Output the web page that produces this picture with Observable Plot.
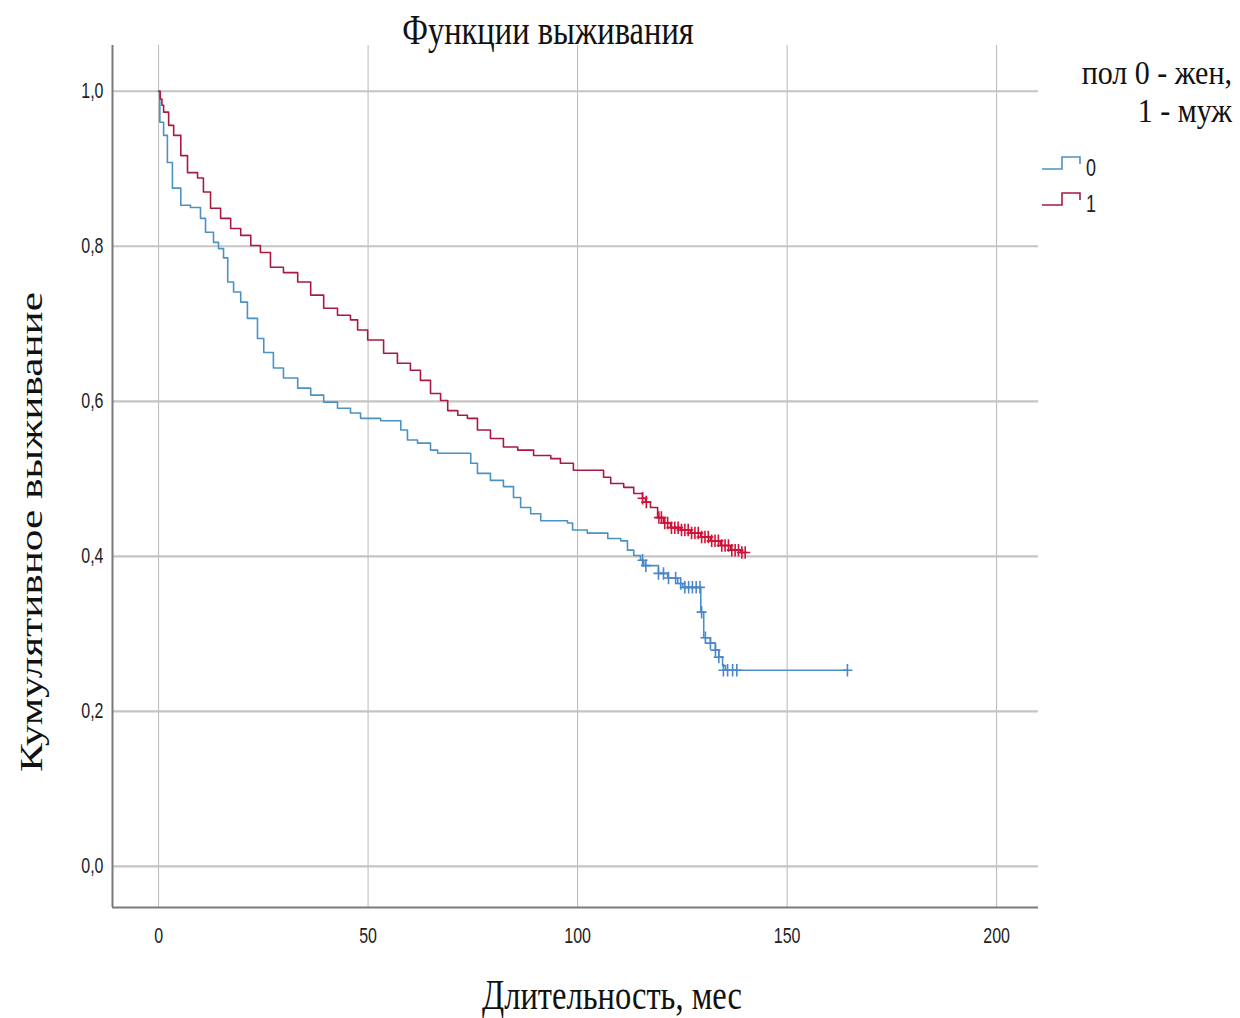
<!DOCTYPE html>
<html>
<head>
<meta charset="utf-8">
<script src="https://cdn.jsdelivr.net/npm/d3@7"></script>
<script src="https://cdn.jsdelivr.net/npm/@observablehq/plot@0.6"></script>
<style>
  html, body { margin: 0; padding: 0; background: #fff; }
  #wrap { position: relative; width: 1240px; height: 1018px; overflow: hidden; }
  .serif { font-family: "Liberation Serif", "DejaVu Serif", serif; color: #111; position: absolute; white-space: nowrap; }
</style>
</head>
<body>
<div id="wrap"></div>
<script>
// ---------- data ----------
const groups = ["0", "1"];
const titleText = "Функции выживания";
const xLabel = "Длительность, мес";
const yLabel = "Кумулятивное выживание";
const legendTitle = ["пол 0 - жен,", "1 - муж"];
const xTicks = [0, 50, 100, 150, 200];
const yTicks = [0, 0.2, 0.4, 0.6, 0.8, 1.0];

// group 0 (жен)
const time0 = [0, 0.3, 1.2, 2.1, 3.3, 5.3, 7.6, 10, 11.2, 13.1, 14.3, 15.5, 16.5, 17.9, 19.6, 21.2, 23.6, 25.1, 27.4, 29.8, 33.2, 36.3, 39.4, 42.7, 45.8, 48.2, 53, 57.8, 59.4, 61.8, 64.9, 66.6, 74.5, 76.1, 79.2, 82.3, 84.7, 86.4, 88.8, 91.2, 97.6, 98.8, 102.3, 107.2, 110.3, 111.9, 113.4, 115, 115.8, 119.3, 121.5, 123.9, 125.1, 129.4, 130.1, 131.7, 132.9, 133.7, 134.6, 135.3, 164.4];
const surv0 = [1, 0.96, 0.943, 0.908, 0.875, 0.853, 0.85, 0.836, 0.818, 0.805, 0.797, 0.785, 0.754, 0.741, 0.728, 0.707, 0.681, 0.663, 0.643, 0.63, 0.617, 0.608, 0.599, 0.591, 0.585, 0.578, 0.575, 0.563, 0.55, 0.546, 0.537, 0.533, 0.52, 0.507, 0.498, 0.49, 0.476, 0.463, 0.455, 0.446, 0.443, 0.434, 0.43, 0.423, 0.42, 0.408, 0.401, 0.395, 0.388, 0.378, 0.372, 0.365, 0.36, 0.328, 0.295, 0.288, 0.279, 0.27, 0.259, 0.253, 0.253];
const censTime0 = [115.5, 116.3, 119.3, 120.5, 121.7, 123.4, 124.6, 125.6, 126.5, 127.4, 128.3, 129.2, 129.6, 130.5, 131.7, 132.9, 133.7, 134.8, 135.8, 137, 138, 164.4];
const censSurv0 = [0.395, 0.388, 0.378, 0.378, 0.372, 0.372, 0.365, 0.36, 0.36, 0.36, 0.36, 0.36, 0.328, 0.295, 0.288, 0.279, 0.27, 0.253, 0.253, 0.253, 0.253, 0.253];

// group 1 (муж)
const time1 = [0, 0.4, 0.8, 1.2, 2.4, 3.6, 5.3, 6.9, 9.3, 10.7, 12.4, 14.8, 17.2, 19.6, 22, 24.3, 26.7, 29.8, 33.2, 36.3, 39.4, 42.7, 45.8, 47.5, 49.9, 53.7, 57, 60.1, 62.5, 64.9, 67.3, 69, 71.4, 73.7, 76.1, 79.2, 82.3, 85.7, 89.5, 93.6, 95.9, 99, 106.2, 107.9, 111, 113.4, 115.5, 116.2, 117.4, 119.1, 120.5, 122.2, 124.6, 127, 129.4, 131.7, 134.1, 136.5, 138.9, 140.1];
const surv1 = [1, 0.99, 0.982, 0.973, 0.956, 0.943, 0.917, 0.895, 0.888, 0.87, 0.849, 0.836, 0.823, 0.814, 0.801, 0.792, 0.773, 0.766, 0.754, 0.737, 0.72, 0.711, 0.705, 0.692, 0.679, 0.662, 0.649, 0.64, 0.627, 0.61, 0.601, 0.588, 0.582, 0.578, 0.563, 0.552, 0.541, 0.537, 0.53, 0.526, 0.52, 0.511, 0.502, 0.494, 0.489, 0.481, 0.475, 0.47, 0.463, 0.45, 0.443, 0.437, 0.434, 0.43, 0.425, 0.42, 0.414, 0.408, 0.405, 0.405];
const censTime1 = [115.5, 116.4, 119.4, 120, 120.8, 121.5, 122.4, 123.2, 124, 124.8, 125.6, 126.4, 127.2, 128, 128.8, 129.6, 130.4, 131.2, 132, 132.8, 133.6, 134.4, 135.2, 136, 136.8, 137.6, 138.4, 139.2, 140];
const censSurv1 = [0.475, 0.47, 0.45, 0.45, 0.443, 0.443, 0.437, 0.437, 0.437, 0.434, 0.434, 0.434, 0.43, 0.43, 0.43, 0.425, 0.425, 0.425, 0.42, 0.42, 0.42, 0.414, 0.414, 0.414, 0.408, 0.408, 0.408, 0.405, 0.405];

// ---------- styling ----------
const lineColor = {"0": "#4b92c2", "1": "#a81a40"};
const censColor = {"0": "#4a86cc", "1": "#d01238"};
const xDomain = [-11, 210];
const yDomain = [-0.053, 1.059];
const stretch = 1.33; // the reference text is vertically elongated

const curve0 = time0.map((t, i) => ({t, s: surv0[i], g: "0"}));
const curve1 = time1.map((t, i) => ({t, s: surv1[i], g: "1"}));
const cens0 = censTime0.map((t, i) => ({t, s: censSurv0[i], g: "0"}));
const cens1 = censTime1.map((t, i) => ({t, s: censSurv1[i], g: "1"}));

const thinPlus = {
  draw(ctx, size) {
    const r = Math.sqrt(size / Math.PI);
    ctx.moveTo(-r, 0); ctx.lineTo(r, 0);
    ctx.moveTo(0, -r * 1.25); ctx.lineTo(0, r * 1.25);
  }
};

const fmt = d => d3.format(".1f")(d).replace(".", ",");

const chart = Plot.plot({
  width: 1240,
  height: 1018,
  marginLeft: 112,
  marginRight: 202,
  marginTop: 45,
  marginBottom: 111,
  style: {background: "transparent", fontFamily: "'Liberation Sans', Arial, sans-serif"},
  x: {domain: xDomain, ticks: xTicks},
  y: {domain: yDomain, ticks: yTicks},
  marks: [
    Plot.gridX(xTicks, {stroke: "#b8b8b8", strokeOpacity: 1, strokeWidth: 1}),
    Plot.gridY(yTicks, {stroke: "#c4c4c4", strokeOpacity: 1, strokeWidth: 2.2}),
    Plot.ruleX([xDomain[0]], {stroke: "#7a7a7a", strokeWidth: 2}),
    Plot.ruleY([yDomain[0]], {stroke: "#7a7a7a", strokeWidth: 2}),
    Plot.axisX(xTicks, {tickSize: 0, tickPadding: 22, fontSize: 16, fill: "#222", label: null}),
    Plot.axisY(yTicks, {tickSize: 0, tickPadding: 9, fontSize: 16, fill: "#222", label: null, tickFormat: fmt}),
    Plot.line(curve0, {x: "t", y: "s", curve: "step-after", stroke: lineColor["0"], strokeWidth: 1.6}),
    Plot.line(curve1, {x: "t", y: "s", curve: "step-after", stroke: lineColor["1"], strokeWidth: 1.6}),
    Plot.dot(cens0, {x: "t", y: "s", symbol: thinPlus, r: 5, stroke: censColor["0"], strokeWidth: 1.6, fill: "none"}),
    Plot.dot(cens1, {x: "t", y: "s", symbol: thinPlus, r: 5, stroke: censColor["1"], strokeWidth: 1.6, fill: "none"})
  ]
});

const wrap = document.getElementById("wrap");
chart.style.position = "absolute";
chart.style.left = "0px";
chart.style.top = "0px";
wrap.appendChild(chart);

// stretch tick labels vertically about their own centre
d3.select(chart).selectAll('g[aria-label="x-axis tick label"] text, g[aria-label="y-axis tick label"] text').each(function () {
  const b = this.getBBox();
  const cx = b.x + b.width / 2, cy = b.y + b.height / 2;
  const prev = this.getAttribute("transform") || "";
  this.setAttribute("transform", `${prev} translate(${cx},${cy}) scale(1,${stretch}) translate(${-cx},${-cy})`);
});

function addText(txt, css) {
  const d = document.createElement("div");
  d.className = "serif";
  d.textContent = txt;
  Object.assign(d.style, {lineHeight: "1"}, css);
  wrap.appendChild(d);
  return d;
}
addText(titleText, {left: "548px", top: "30px", fontSize: "32.5px", transform: `translate(-50%,-50%) scaleY(${stretch})`});
addText(xLabel, {left: "612px", top: "995px", fontSize: "32.5px", transform: `translate(-50%,-50%) scaleY(${stretch})`});
addText(yLabel, {left: "31px", top: "532px", fontSize: "32.5px", transform: `translate(-50%,-50%) rotate(-90deg) scaleX(${stretch})`});

// legend title: two right-aligned lines
legendTitle.forEach((line, i) => {
  addText(line, {right: "8px", top: `${73 + i * 37.5}px`, fontSize: "30px", lineHeight: "0.75", textAlign: "right",
    transform: `translateY(-50%) scaleY(1.12)`, transformOrigin: "right center"});
});

// legend entries
const ns = "http://www.w3.org/2000/svg";
const lg = document.createElementNS(ns, "svg");
lg.setAttribute("width", 90);
lg.setAttribute("height", 80);
Object.assign(lg.style, {position: "absolute", left: "1036px", top: "145px"});
groups.forEach((g, i) => {
  const y0 = 24 + i * 36;
  const p = document.createElementNS(ns, "path");
  p.setAttribute("d", `M6,${y0} H26 V${y0 - 12} H44 V${y0 - 5}`);
  p.setAttribute("fill", "none");
  p.setAttribute("stroke", lineColor[g]);
  p.setAttribute("stroke-width", 1.6);
  lg.appendChild(p);
  const t = document.createElementNS(ns, "text");
  t.setAttribute("transform", `translate(50,${y0 - 1}) scale(1,${stretch})`);
  t.setAttribute("dominant-baseline", "central");
  t.setAttribute("font-family", "'Liberation Sans', Arial, sans-serif");
  t.setAttribute("font-size", 18);
  t.setAttribute("fill", "#222");
  t.textContent = g;
  lg.appendChild(t);
});
wrap.appendChild(lg);
</script>
</body>
</html>
